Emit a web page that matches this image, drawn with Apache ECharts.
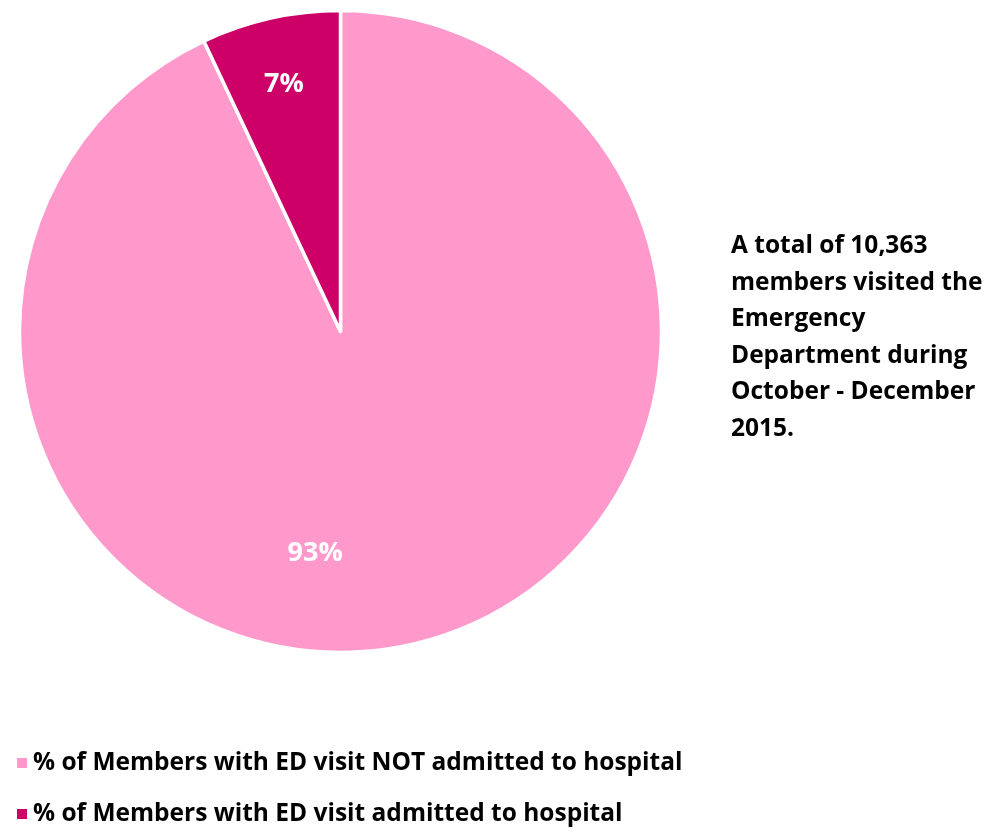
<!DOCTYPE html>
<html>
<head>
<meta charset="utf-8">
<script src="https://cdn.jsdelivr.net/npm/echarts@6/dist/echarts.min.js"></script>
<style>
  html, body { margin: 0; padding: 0; background: #fff; }
  #chart { width: 987px; height: 834px; }
</style>
</head>
<body>
<div id="chart"></div>
<script>
// ED visit outcomes, share of members (percent)
const categories = [
  '% of Members with ED visit NOT admitted to hospital',
  '% of Members with ED visit admitted to hospital'
];
const shares = [93, 7];
const sliceColors = ['#FF99CC', '#CC0066'];
const noteLines = [
  'A total of 10,363',
  'members visited the',
  'Emergency',
  'Department during',
  'October - December',
  '2015.'
];

// Nudges that move each percentage label to its spot in the slice
const labelShift = [[-61, 62], [-21, -88]];

const FONT = '"Open Sans", sans-serif';

const chart = echarts.init(document.getElementById('chart'), null, { renderer: 'canvas' });

chart.setOption({
  animation: false,
  color: sliceColors,
  legend: {
    orient: 'vertical',
    left: 10,
    top: 745,
    itemWidth: 12,
    itemHeight: 12,
    itemGap: 25,
    icon: 'rect',
    textStyle: {
      fontFamily: FONT, fontWeight: 'bold', fontSize: 24.5, lineHeight: 26,
      color: '#000'
    },
    data: categories
  },
  graphic: [{
    type: 'text',
    left: 731,
    top: 228,
    style: {
      text: noteLines.join('\n'),
      fontFamily: FONT,
      fontWeight: 'bold',
      fontSize: 24.5,
      lineHeight: 36.5,
      fill: '#000'
    }
  }],
  series: [{
    type: 'pie',
    center: [340.5, 331.5],
    radius: [0, 321],
    startAngle: 90,
    clockwise: true,
    itemStyle: { borderColor: '#fff', borderWidth: 3.5 },
    label: {
      show: true,
      position: 'inside',
      formatter: p => p.value + '%',
      color: '#fff',
      fontFamily: FONT,
      fontWeight: 'bold',
      fontSize: 27
    },
    labelLine: { show: false },
    labelLayout: p => ({ dx: labelShift[p.dataIndex][0], dy: labelShift[p.dataIndex][1] }),
    emphasis: { disabled: true },
    data: categories.map((name, i) => ({ name, value: shares[i] }))
  }]
});
</script>
</body>
</html>
